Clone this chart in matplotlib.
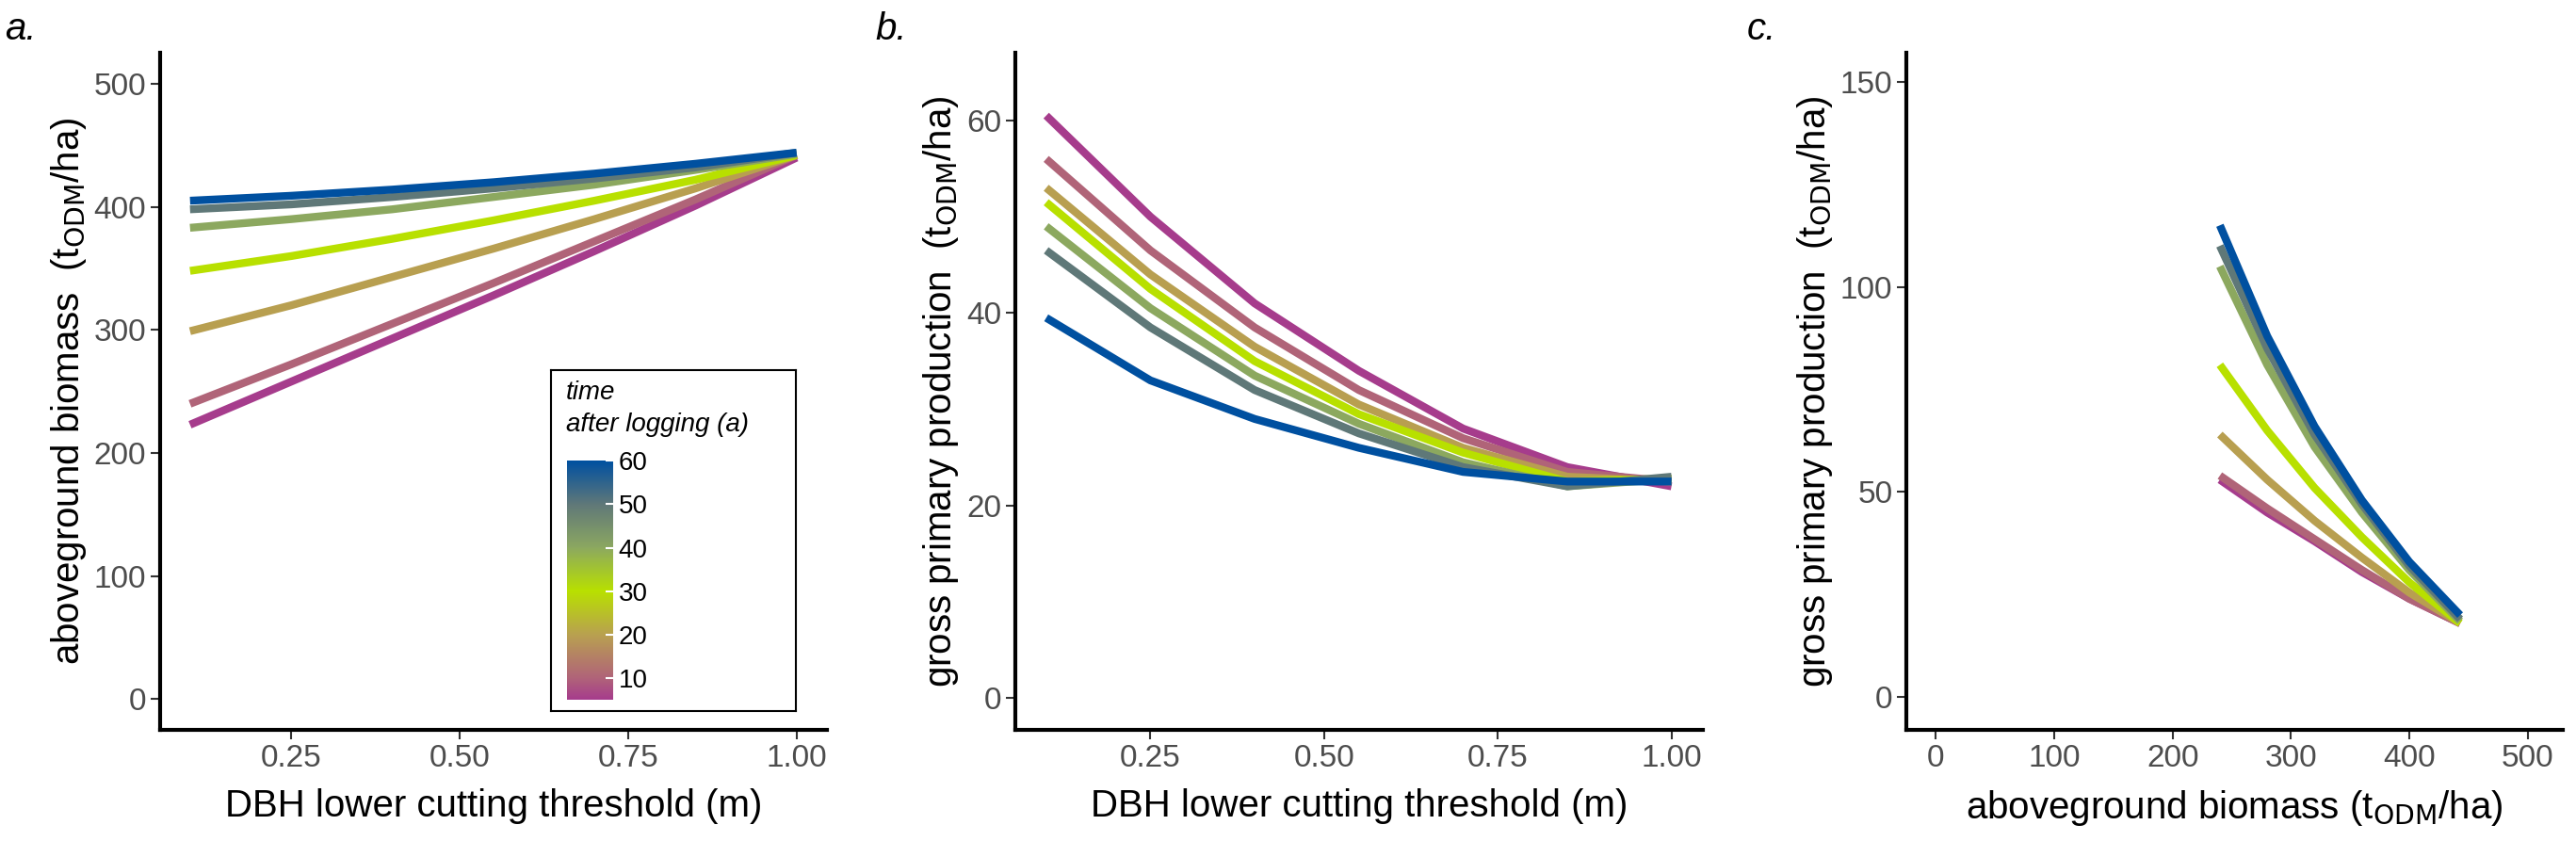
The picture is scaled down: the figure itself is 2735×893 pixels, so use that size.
import numpy as np
import matplotlib
matplotlib.use('Agg')
import matplotlib.pyplot as plt
from matplotlib.colors import LinearSegmentedColormap, Normalize
from matplotlib.cm import ScalarMappable

plt.rcParams['font.family'] = ['Liberation Sans', 'DejaVu Sans']

# time after logging (a)
times = [5, 10, 20, 30, 40, 50, 60]
cstops = ['#A63C8C', '#B06478', '#B8A050', '#B8E000', '#8CA860', '#607878', '#0050A0']

# panel a: aboveground biomass vs DBH threshold
dbh = [0.1, 0.25, 0.4, 0.55, 0.7, 0.85, 1.0]
agb = [
    [223, 258, 293, 328, 364, 401, 440],
    [240, 272, 305, 338, 372, 406, 442],
    [299, 320, 343, 366, 390, 415, 442],
    [348, 360, 374, 389, 405, 422, 442],
    [383, 390, 398, 408, 418, 430, 443],
    [398, 402, 408, 415, 423, 432, 444],
    [405, 409, 414, 420, 427, 435, 444],
]
# panel b: gpp vs DBH threshold
gpp = [
    [60.5, 50.0, 41.0, 34.0, 28.0, 24.0, 22.0],
    [56.0, 46.5, 38.5, 32.0, 27.0, 23.5, 22.5],
    [53.0, 44.0, 36.5, 30.5, 26.0, 23.0, 22.5],
    [51.5, 42.5, 35.0, 29.5, 25.5, 22.5, 22.8],
    [49.0, 40.5, 33.5, 28.5, 24.5, 22.0, 22.8],
    [46.5, 38.5, 32.0, 27.5, 24.0, 22.0, 23.0],
    [39.5, 33.0, 29.0, 26.0, 23.5, 22.5, 22.5],
]
# panel c: gpp vs aboveground biomass
agb_c = [240, 280, 320, 360, 400, 443]
gpp_c = [
    [53, 45, 38, 30.5, 24, 18],
    [54, 46, 38.5, 31, 24, 18],
    [64, 53, 43, 34, 25.5, 18],
    [81, 65, 51, 39, 28, 18],
    [105, 81, 61, 45, 31, 18.5],
    [110, 85, 64, 47, 32, 19],
    [115, 88, 66, 48, 33, 20],
]

norm = Normalize(5, 60)
cmap = LinearSegmentedColormap.from_list('t', [(float(norm(t)), c) for t, c in zip(times, cstops)])

fig = plt.figure(figsize=(27.35, 8.93), dpi=100)
axa = fig.add_axes([0.062, 0.132, 0.259, 0.805])
axb = fig.add_axes([0.394, 0.132, 0.267, 0.805])
axc = fig.add_axes([0.740, 0.132, 0.255, 0.805])

for t, y in zip(times, agb):
    axa.plot(dbh, y, color=cmap(norm(t)), lw=6, solid_capstyle='butt')
for t, y in zip(times, gpp):
    axb.plot(dbh, y, color=cmap(norm(t)), lw=6, solid_capstyle='butt')
for t, y in zip(times, gpp_c):
    axc.plot(agb_c, y, color=cmap(norm(t)), lw=6, solid_capstyle='butt')

def style(ax):
    for s in ['top', 'right']:
        ax.spines[s].set_visible(False)
    for s in ['left', 'bottom']:
        ax.spines[s].set_linewidth(3)
    ax.tick_params(labelsize=24, labelcolor='#4d4d4d', length=7, width=1.5, color='#333333')

axa.set_xlim(0.055, 1.045)
axa.set_ylim(-25, 525)
axa.set_xticks([0.25, 0.5, 0.75, 1.0])
axa.set_xticklabels(['0.25', '0.50', '0.75', '1.00'])
axa.set_yticks([0, 100, 200, 300, 400, 500])
axa.set_xlabel('DBH lower cutting threshold (m)', fontsize=29, labelpad=12)
axa.set_ylabel('aboveground biomass  (t$_{\\rm ODM}$/ha)', fontsize=29)
style(axa)

axb.set_xlim(0.055, 1.045)
axb.set_ylim(-3.3, 67)
axb.set_xticks([0.25, 0.5, 0.75, 1.0])
axb.set_xticklabels(['0.25', '0.50', '0.75', '1.00'])
axb.set_yticks([0, 20, 40, 60])
axb.set_xlabel('DBH lower cutting threshold (m)', fontsize=29, labelpad=12)
axb.set_ylabel('gross primary production  (t$_{\\rm ODM}$/ha)', fontsize=29)
style(axb)

axc.set_xlim(-25, 530)
axc.set_ylim(-8, 157)
axc.set_xticks([0, 100, 200, 300, 400, 500])
axc.set_yticks([0, 50, 100, 150])
axc.set_xlabel('aboveground biomass (t$_{\\rm ODM}$/ha)', fontsize=29, labelpad=12)
axc.set_ylabel('gross primary production  (t$_{\\rm ODM}$/ha)', fontsize=29)
style(axc)

for lab, x in [('a.', 0.002), ('b.', 0.34), ('c.', 0.678)]:
    fig.text(x, 0.965, lab, fontsize=29, style='italic', va='center')

# legend box with colourbar
box = fig.add_axes([0.214, 0.155, 0.095, 0.405])
box.set_xticks([]); box.set_yticks([])
for s in box.spines.values():
    s.set_linewidth(1.5)
box.text(0.06, 0.97, 'time\nafter logging (a)', transform=box.transAxes, fontsize=20,
         style='italic', va='top', ha='left', linespacing=1.4)
cax = fig.add_axes([0.220, 0.168, 0.018, 0.284])
cb = fig.colorbar(ScalarMappable(norm=norm, cmap=cmap), cax=cax)
cb.set_ticks([10, 20, 30, 40, 50, 60])
cb.outline.set_visible(False)
cax.tick_params(labelsize=20, color='white', length=6, width=1.5, direction='in', pad=4)

fig.savefig('out.png', dpi=100)
